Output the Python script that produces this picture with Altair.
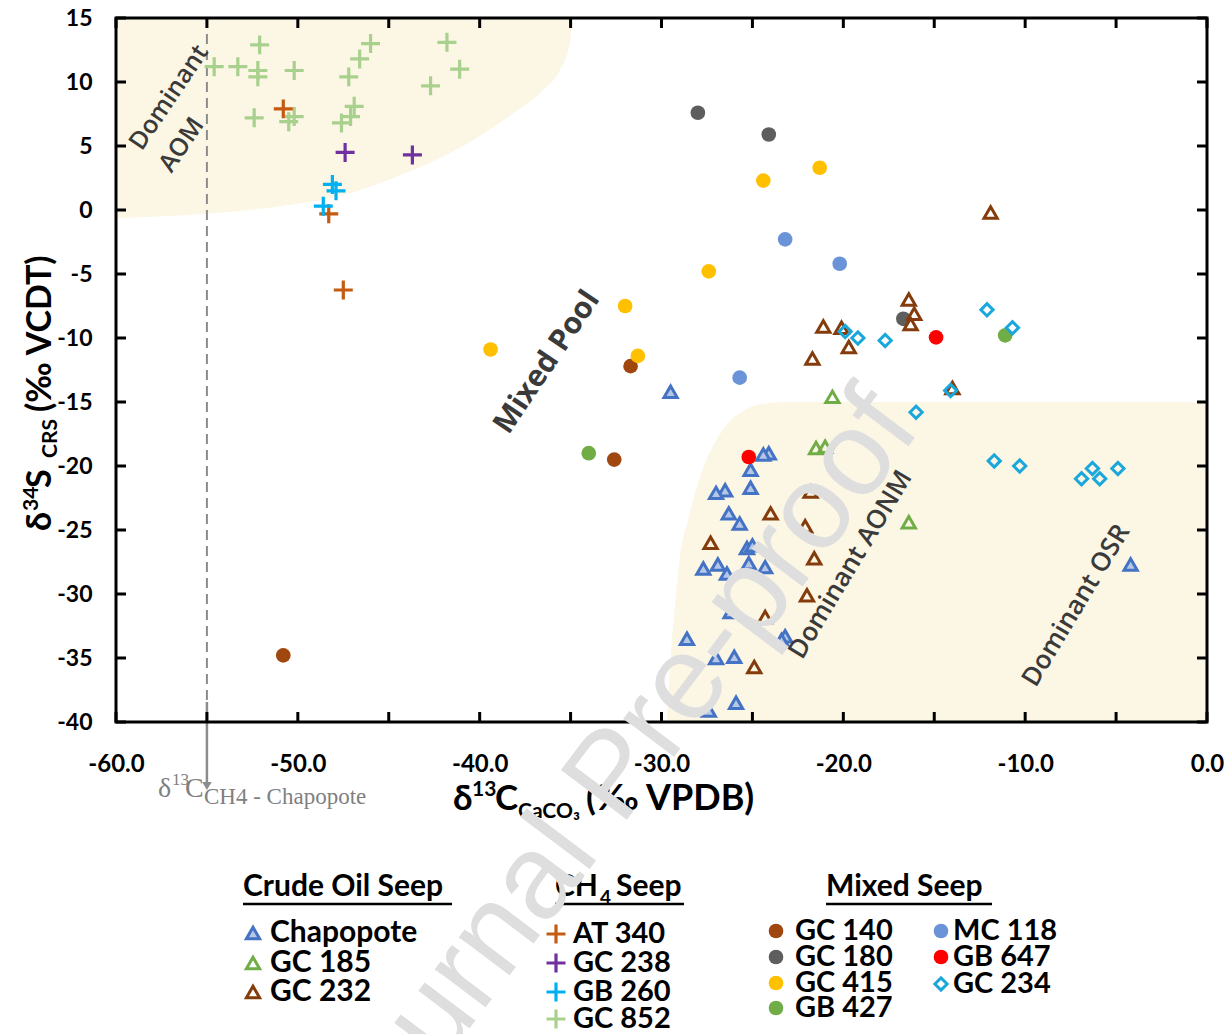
import altair as alt
import pandas as pd

# ---------------------------------------------------------------- data
# Crude oil seeps (triangles)
chapopote_x = [-29.5, -24.1, -24.4, -25.1, -25.1, -26.5, -27.0, -26.3, -25.7, -25.3, -25.0,
               -26.9, -27.7, -25.2, -24.3, -26.4, -26.2, -28.6, -27.0, -26.0, -23.2, -23.4,
               -25.9, -27.4, -4.2]
chapopote_y = [-14.2, -19.0, -19.1, -20.3, -21.7, -21.9, -22.1, -23.7, -24.5, -26.4, -26.2,
               -27.7, -28.0, -27.6, -27.9, -28.4, -31.4, -33.5, -35.0, -34.9, -33.3, -33.6,
               -38.5, -39.1, -27.7]
gc185_x = [-20.6, -21.5, -21.0, -16.4]
gc185_y = [-14.6, -18.6, -18.5, -24.4]
gc232_x = [-11.9, -16.4, -16.1, -16.3, -21.1, -20.1, -19.7, -21.7, -14.0, -21.8, -24.0,
           -22.1, -27.3, -21.6, -22.0, -24.3, -24.9]
gc232_y = [-0.2, -7.0, -8.1, -8.9, -9.1, -9.2, -10.7, -11.6, -13.9, -22.0, -23.7,
           -24.7, -26.0, -27.2, -30.1, -31.8, -35.7]

# CH4 seeps (crosses)
at340_x = [-50.8, -48.3, -47.5]
at340_y = [7.9, -0.3, -6.25]
gc238_x = [-47.4, -43.7]
gc238_y = [4.5, 4.3]
gb260_x = [-48.1, -47.9, -48.6]
gb260_y = [2.0, 1.5, 0.3]
gc852_x = [-52.1, -54.6, -53.3, -52.2, -52.2, -50.2, -46.0, -46.6, -47.2, -41.8, -41.1, -42.7,
           -52.4, -50.2, -50.5, -46.9, -47.1, -47.6]
gc852_y = [12.9, 11.2, 11.2, 10.9, 10.4, 10.9, 13.0, 11.8, 10.4, 13.1, 11.0, 9.7,
           7.2, 7.3, 6.9, 8.1, 7.3, 6.8]

# Mixed seeps (circles, diamonds)
gc140_x = [-31.7, -32.6, -50.8]
gc140_y = [-12.2, -19.5, -34.8]
gc180_x = [-28.0, -24.1, -16.7]
gc180_y = [7.6, 5.9, -8.5]
gc415_x = [-21.3, -24.4, -27.4, -32.0, -31.3, -39.4]
gc415_y = [3.3, 2.3, -4.8, -7.5, -11.4, -10.9]
gb427_x = [-11.1, -34.0]
gb427_y = [-9.8, -19.0]
mc118_x = [-23.2, -20.2, -25.7]
mc118_y = [-2.3, -4.2, -13.1]
gb647_x = [-14.9, -25.2]
gb647_y = [-9.95, -19.3]
gc234_x = [-12.1, -10.7, -19.9, -19.2, -17.7, -14.1, -16.0, -11.7, -10.3, -6.9, -6.3, -5.9, -4.9]
gc234_y = [-7.8, -9.2, -9.5, -10.0, -10.2, -14.1, -15.8, -19.6, -20.0, -21.0, -20.2, -21.0, -20.2]

# shaded fields (boundaries in data units)
aom_x = [-60.0, -54.8, -51.2, -47.5, -44.8, -42.0, -40.2, -38.4, -36.5, -35.6, -35.05, -34.9]
aom_y = [-0.65, -0.26, 0.26, 1.17, 2.47, 4.17, 5.6, 7.3, 9.4, 10.9, 13.0, 15.0]
osr_x = [-29.7, -29.5, -29.2, -29.0, -28.5, -27.75, -27.0, -26.3, -25.4, -24.6, -23.0, 0.0]
osr_y = [-40.0, -35.0, -30.0, -27.3, -24.0, -20.3, -18.0, -16.6, -15.6, -15.2, -15.0, -15.0]

ch4_chapopote = [-55.0]

x_label_values = [-60, -50, -40, -30, -20, -10, 0]
x_tick_values = list(range(-60, 1, 5))
y_tick_values = list(range(-40, 16, 5))
X_DOMAIN = [-60, 0]
Y_DOMAIN = [-40, 15]

# ---------------------------------------------------------------- layout
LEFT, TOP, W, H = 116, 18, 1091, 704
PAD = {"left": LEFT, "top": TOP, "right": 1231 - LEFT - W, "bottom": 1034 - TOP - H}

XS = alt.Scale(domain=X_DOMAIN, nice=False, zero=False)
YS = alt.Scale(domain=Y_DOMAIN, nice=False, zero=False)
X_AX = alt.Axis(values=x_label_values, labelExpr="replace(format(datum.value, '.1f'), '\u2212', '-')",
                labelFont="Lato", labelFontWeight="bold",
                labelFontSize=24, labelColor="black", labelPadding=30, labelFlush=False,
                labelOverlap=False, domain=False, ticks=False, grid=False, title=None)
Y_AX = alt.Axis(values=y_tick_values, labelExpr="replace(format(datum.value, 'd'), '\u2212', '-')",
                labelFont="Lato", labelFontWeight="bold",
                labelFontSize=23, labelColor="black", labelPadding=24, labelOverlap=False,
                domain=False, ticks=False, grid=False, title=None)

ONE = pd.DataFrame({"k": [0]})
CREAM = "#FCF6E4"
GRAYTXT = "#3A3A3A"


def X(f="x"):
    return alt.X(f + ":Q", scale=XS, axis=X_AX)


def Y(f="y"):
    return alt.Y(f + ":Q", scale=YS, axis=Y_AX)


STY = {
    "Chapopote": dict(shape="triangle-up", filled=True, fill="#B4C7E7", stroke="#4472C4", strokeWidth=3, size=175),
    "GC 185": dict(shape="triangle-up", filled=False, color="#70AD47", strokeWidth=3, size=175),
    "GC 232": dict(shape="triangle-up", filled=False, color="#843C0C", strokeWidth=3, size=175),
    "AT 340": dict(shape="M-1,0L1,0M0,-1L0,1", filled=False, color="#C55A11", strokeWidth=3.2, size=360),
    "GC 238": dict(shape="M-1,0L1,0M0,-1L0,1", filled=False, color="#7030A0", strokeWidth=3.2, size=360),
    "GB 260": dict(shape="M-1,0L1,0M0,-1L0,1", filled=False, color="#00B0F0", strokeWidth=3.2, size=360),
    "GC 852": dict(shape="M-1,0L1,0M0,-1L0,1", filled=False, color="#A9D18E", strokeWidth=3.2, size=360),
    "GC 140": dict(shape="circle", filled=True, color="#A0460F", size=215),
    "GC 180": dict(shape="circle", filled=True, color="#5E5E5E", size=215),
    "GC 415": dict(shape="circle", filled=True, color="#FFC000", size=215),
    "GB 427": dict(shape="circle", filled=True, color="#70AD47", size=215),
    "MC 118": dict(shape="circle", filled=True, color="#6A93D8", size=215),
    "GB 647": dict(shape="circle", filled=True, color="#FF0000", size=215),
    "GC 234": dict(shape="diamond", filled=False, color="#1AA7DC", strokeWidth=3, size=150),
}


def pts(name, xs, ys):
    df = pd.DataFrame({"x": xs, "y": ys})
    return alt.Chart(df).mark_point(opacity=1, **STY[name]).encode(x=X(), y=Y())


def txt(s, px, py, size, angle=0, align="left", baseline="alphabetic", font="Lato",
        weight="bold", color="black"):
    return alt.Chart(ONE).mark_text(text=s, fontSize=size, angle=angle, align=align,
                                    baseline=baseline, font=font, fontWeight=weight,
                                    color=color).encode(x=alt.value(px - LEFT), y=alt.value(py - TOP))


def note(s, x, y, size, angle, weight=600):
    df = pd.DataFrame({"x": [x], "y": [y]})
    return alt.Chart(df).mark_text(text=s, fontSize=size, angle=angle, align="center",
                                   baseline="middle", font="Open Sans", fontWeight=weight,
                                   color=GRAYTXT).encode(x=X(), y=Y())


def sym(name, px, py):
    return alt.Chart(ONE).mark_point(opacity=1, **STY[name]).encode(
        x=alt.value(px - LEFT), y=alt.value(py - TOP))


layers = []

# shaded fields
aom_df = pd.DataFrame({"x": aom_x, "y": aom_y, "top": [Y_DOMAIN[1]] * len(aom_x)})
layers.append(alt.Chart(aom_df).mark_area(color=CREAM, interpolate="monotone", opacity=1).encode(
    x=X(), y=Y(), y2=alt.Y2("top:Q")))
osr_df = pd.DataFrame({"x": osr_x, "y": osr_y, "bottom": [Y_DOMAIN[0]] * len(osr_x)})
layers.append(alt.Chart(osr_df).mark_area(color=CREAM, interpolate="monotone", opacity=1).encode(
    x=X(), y=Y(), y2=alt.Y2("bottom:Q")))

# CH4 Chapopote reference line + arrow
ch4_df = pd.DataFrame({"x": ch4_chapopote})
layers.append(alt.Chart(ch4_df).mark_rule(color="#8C8C8C", strokeWidth=2, strokeDash=[10, 6]).encode(
    x=X(), y=alt.value(0), y2=alt.value(684)))
layers.append(alt.Chart(ch4_df).mark_rule(color="#8C8C8C", strokeWidth=2.5).encode(
    x=X(), y=alt.value(684), y2=alt.value(764)))
layers.append(alt.Chart(ch4_df).mark_point(shape="triangle-down", filled=True, color="#8C8C8C",
                                           size=90, opacity=1).encode(x=X(), y=alt.value(768)))

# data points
layers += [
    pts("GC 140", gc140_x, gc140_y),
    pts("GC 180", gc180_x, gc180_y),
    pts("GC 415", gc415_x, gc415_y),
    pts("GB 427", gb427_x, gb427_y),
    pts("MC 118", mc118_x, mc118_y),
    pts("Chapopote", chapopote_x, chapopote_y),
    pts("GC 185", gc185_x, gc185_y),
    pts("GC 232", gc232_x, gc232_y),
    pts("GC 852", gc852_x, gc852_y),
    pts("AT 340", at340_x, at340_y),
    pts("GC 238", gc238_x, gc238_y),
    pts("GB 260", gb260_x, gb260_y),
    pts("GB 647", gb647_x, gb647_y),
    pts("GC 234", gc234_x, gc234_y),
]

# field labels
layers += [
    note("Dominant", -57.1, 8.8, 25, 304),
    note("AOM", -56.4, 5.1, 25, 304),
    note("Mixed Pool", -36.3, -11.9, 30, 304, weight="bold"),
    note("Dominant AONM", -19.6, -27.7, 26, 301),
    note("Dominant OSR", -7.2, -30.9, 26, 301),
]

# frame and inward ticks
layers.append(alt.Chart(ONE).mark_rect(fillOpacity=0, stroke="black", strokeWidth=3).encode(
    x=alt.value(0), x2=alt.value(W), y=alt.value(0), y2=alt.value(H)))
xt = pd.DataFrame({"x": x_tick_values})
yt = pd.DataFrame({"y": y_tick_values})
layers.append(alt.Chart(xt).mark_rule(color="black", strokeWidth=3).encode(
    x=X(), y=alt.value(H), y2=alt.value(H - 10)))
layers.append(alt.Chart(xt).mark_rule(color="black", strokeWidth=3).encode(
    x=X(), y=alt.value(0), y2=alt.value(10)))
layers.append(alt.Chart(yt).mark_rule(color="black", strokeWidth=3).encode(
    y=Y(), x=alt.value(0), x2=alt.value(10)))
layers.append(alt.Chart(yt).mark_rule(color="black", strokeWidth=3).encode(
    y=Y(), x=alt.value(W - 10), x2=alt.value(W)))

# y title: δ34S_CRS (‰ VCDT)
layers += [
    txt("δ", 51, 531, 34, angle=270),
    txt("34", 38, 511, 21, angle=270),
    txt("S", 51, 488, 34, angle=270),
    txt("CRS", 57, 458, 21, angle=270),
    txt("(‰ VCDT)", 51, 412, 34, angle=270),
]
# x title: δ13C_CaCO3 (‰ VPDB)
layers += [
    txt("δ", 453, 810, 35),
    txt("13", 472, 796, 21),
    txt("C", 495, 810, 35),
    txt("CaCO₃", 518, 818, 21),
    txt("(‰ VPDB)", 586, 810, 36),
]
# δ13C CH4 - Chapopote annotation
layers += [
    txt("δ", 158, 797, 28, font="Liberation Serif", weight="normal", color="#7F7F7F"),
    txt("13", 172, 785, 17, font="Liberation Serif", weight="normal", color="#7F7F7F"),
    txt("C", 185, 797, 28, font="Liberation Serif", weight="normal", color="#7F7F7F"),
    txt("CH4 - Chapopote", 204, 804, 23, font="Liberation Serif", weight="normal", color="#7F7F7F"),
]

# legend
legend_cols = [
    (253, 270, ["Chapopote", "GC 185", "GC 232"], [933, 963, 992], 30),
    (556, 573, ["AT 340", "GC 238", "GB 260", "GC 852"], [934, 963, 992, 1019], 29),
    (776, 795, ["GC 140", "GC 180", "GC 415", "GB 427"], [931, 957, 983, 1008], 29),
    (941, 953, ["MC 118", "GB 647", "GC 234"], [931, 957, 984], 29),
]
for sx, tx, names, rows, fs in legend_cols:
    for nm, ry in zip(names, rows):
        layers.append(sym(nm, sx, ry))
        layers.append(txt(nm, tx, ry, fs, baseline="middle"))

layers += [
    txt("Crude Oil Seep", 243, 887, 30, baseline="middle"),
    txt("CH", 555, 887, 30, baseline="middle"),
    txt("4", 600, 898, 19, baseline="middle"),
    txt("Seep", 616, 887, 30, baseline="middle"),
    txt("Mixed Seep", 826, 887, 30, baseline="middle"),
]
for x1, x2 in [(243, 452), (555, 684), (826, 992)]:
    layers.append(alt.Chart(ONE).mark_rule(color="black", strokeWidth=2.5).encode(
        x=alt.value(x1 - LEFT), x2=alt.value(x2 - LEFT), y=alt.value(904 - TOP)))

# watermark
layers.append(txt("Journal Pre-proof", 922, 428, 120, angle=307, align="right",
                  font="Liberation Sans", weight="normal", color="#DEDEDE"))

chart = alt.layer(*layers).properties(
    width=W, height=H, padding=PAD, autosize=alt.AutoSizeParams(type="none"),
    background="white",
).configure_view(stroke=None)

chart.save("out.html", embed_options={"renderer": "svg", "actions": False})
